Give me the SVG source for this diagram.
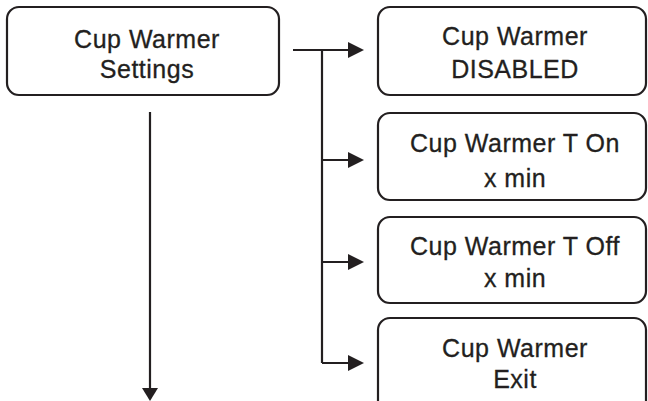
<svg xmlns="http://www.w3.org/2000/svg" width="648" height="401" viewBox="0 0 648 401">
<defs>
<style>
.box{fill:#fff;stroke:#231f20;stroke-width:2.2}
.ln{fill:none;stroke:#231f20;stroke-width:2.2}
.ah{fill:#231f20}
text{font-family:"Liberation Sans",Arial,sans-serif;font-size:25px;fill:#231f20;stroke:#231f20;stroke-width:0.3;text-anchor:middle;letter-spacing:0.5px}
</style>
</defs>
<rect width="648" height="401" fill="#fff"/>
<g id="connectors">
<path class="ln" d="M293 50H350M322 50V363M322 160H350M322 262H350M322 363H350M150 112V390"/>
<path class="ah" d="M348 42L364 50L348 58Z"/>
<path class="ah" d="M348 152L364 160L348 168Z"/>
<path class="ah" d="M348 254L364 262L348 270Z"/>
<path class="ah" d="M348 355L364 363L348 371Z"/>
<path class="ah" d="M142 388L158 388L150 401Z"/>
</g>
<g id="settings">
<rect class="box" x="7" y="7" width="272" height="88" rx="12"/>
<text x="147" y="48">Cup Warmer</text>
<text x="147" y="78">Settings</text>
</g>
<g id="disabled">
<rect class="box" x="378" y="7" width="268" height="88" rx="12"/>
<text x="515" y="45">Cup Warmer</text>
<text x="515" y="78">DISABLED</text>
</g>
<g id="ton">
<rect class="box" x="378" y="113" width="268" height="87" rx="12"/>
<text x="515" y="152">Cup Warmer T On</text>
<text x="515" y="187">x min</text>
</g>
<g id="toff">
<rect class="box" x="378" y="217" width="268" height="86" rx="12"/>
<text x="515" y="255">Cup Warmer T Off</text>
<text x="515" y="287">x min</text>
</g>
<g id="exit">
<rect class="box" x="378" y="318" width="268" height="100" rx="12"/>
<text x="515" y="357">Cup Warmer</text>
<text x="515" y="388">Exit</text>
</g>
</svg>
